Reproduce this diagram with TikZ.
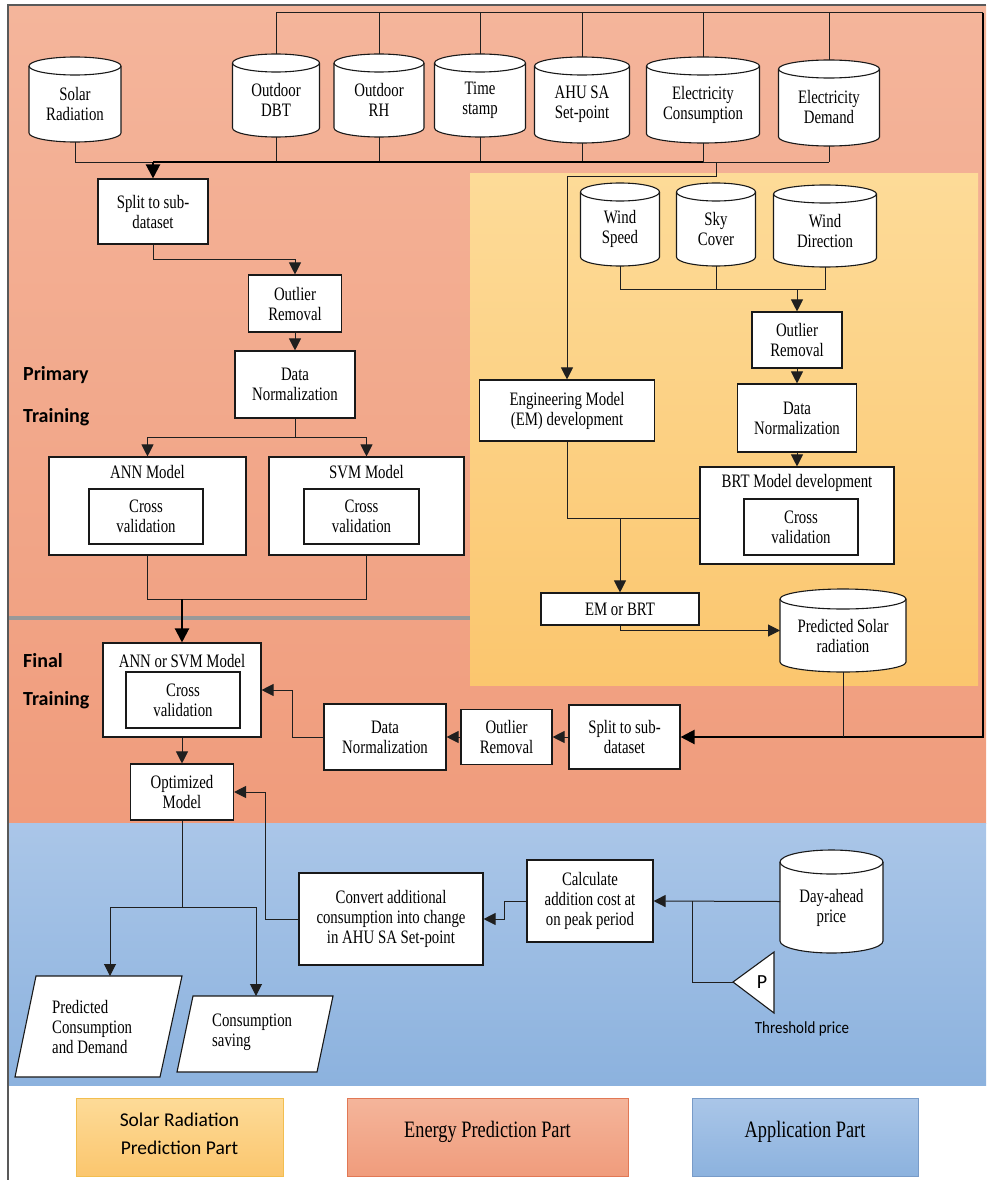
\documentclass[tikz,border=0pt]{standalone}
\usepackage{fontspec}
\setmainfont{Liberation Serif}[FakeStretch=0.78]
\newfontfamily\labfont{Carlito}
\newfontfamily\thrfont{Carlito}[FakeStretch=0.88]
\usetikzlibrary{arrows.meta}
\definecolor{salT}{RGB}{244,181,155}
\definecolor{salB}{RGB}{240,156,124}
\definecolor{yelT}{RGB}{253,219,152}
\definecolor{yelB}{RGB}{251,198,110}
\definecolor{bluT}{RGB}{170,198,232}
\definecolor{bluB}{RGB}{140,178,222}
\definecolor{legYd}{RGB}{242,190,80}
\definecolor{legSd}{RGB}{225,120,85}
\definecolor{legBd}{RGB}{120,155,200}
\newcommand\mycyl[7]{%
  \node[cylbox, minimum width=#4pt, minimum height=#5pt] (#1) at (#2,-#3) {};
  \path[cylline] (#1.north west) ++(0,-#6) -- ++(0,{-(#5-2*#6)})
     arc[start angle=180, end angle=360, x radius={0.5*#4pt}, y radius=#6pt]
     -- ++(0,{#5-2*#6})
     arc[start angle=0, end angle=180, x radius={0.5*#4pt}, y radius=#6pt] -- cycle;
  \draw[cylline, fill=none] (#1.north west) ++(0,-#6)
     arc[start angle=180, end angle=360, x radius={0.5*#4pt}, y radius=#6pt];
  \node[txt] (#1t) at ([yshift={-0.5*#6pt}]#1.center) {#7};
}
\begin{document}
\begin{tikzpicture}[x=1pt,y=1pt,
  nf/.style={font=\fontsize{19}{20}\selectfont},
  box/.style={draw=black!90, line width=1.1pt, fill=white, inner sep=0pt, align=center, nf},
  txt/.style={inner sep=0pt, align=center, nf},
  cylbox/.style={inner sep=0pt, outer sep=0pt},
  cylline/.style={draw=black!90, line width=1.1pt, fill=white},
  shp/.style={draw=black!90, line width=1.1pt, fill=white},
  ln/.style={draw=black!88, line width=1pt},
  arr/.style={ln, -{Triangle[length=12pt,width=12pt]}},
  thk/.style={draw=black, line width=2.2pt},
  thkarr/.style={thk, -{Triangle[length=14pt,width=14pt]}},
  lab/.style={font=\labfont\bfseries\fontsize{20}{22}\selectfont, inner sep=0pt, anchor=west},
  leg/.style={line width=0.8pt, inner sep=0pt, minimum height=78pt},
]
\useasboundingbox (0,0) rectangle (986,-1180);
\fill[white] (0,0) rectangle (986,-1180);
% regions
\fill[top color=salT, bottom color=salB] (8,-6) rectangle (986,-823);
\fill[top color=yelT, bottom color=yelB] (470,-173) rectangle (978,-685);
\fill[top color=bluT, bottom color=bluB] (8,-823) rectangle (986,-1085);
\draw[line width=4pt, color=black!40] (8,-618) -- (470,-618);
\draw[line width=1.5pt, color=black!65] (8,-1180) -- (8,-5) -- (986,-5);

% top cylinders
\mycyl{solar}{75}{99.5}{92}{85}{9}{Solar\\Radiation}
\mycyl{dbt}{276}{95.5}{87}{83}{9}{Outdoor\\DBT}
\mycyl{rh}{379}{95.5}{90}{83}{9}{Outdoor\\RH}
\mycyl{time}{480}{95.5}{91}{83}{9}{Time\\stamp}
\mycyl{ahu}{582}{100}{95}{86}{9}{AHU SA\\Set-point}
\mycyl{econs}{703}{100}{113}{86}{9}{Electricity\\Consumption}
\mycyl{edem}{829}{103}{101}{86}{9}{Electricity\\Demand}
% solar part cylinders
\mycyl{ws}{620}{224.5}{79}{83}{9}{Wind\\Speed}
\mycyl{sc}{716}{224.5}{79}{83}{9}{Sky\\Cover}
\mycyl{wd}{825}{226}{103}{82}{9}{Wind\\Direction}
\mycyl{psr}{843}{630.5}{126}{83}{10}{Predicted Solar\\radiation}
\mycyl{dap}{831.5}{901.5}{103}{103}{12}{Day-ahead\\price}

% primary training
\node[box, minimum width=110pt, minimum height=65pt] (split1) at (153,-211.5) {Split to sub-\\dataset};
\node[box, minimum width=93pt, minimum height=57pt] (out1) at (295,-303.5) {Outlier\\Removal};
\node[box, minimum width=120pt, minimum height=67pt] (norm1) at (295,-384.5) {Data\\Normalization};
\node[box, minimum width=197pt, minimum height=98pt] (ann) at (147.5,-506) {};
\node[txt] (annt) at (147.5,-472) {ANN Model};
\node[box, minimum width=114pt, minimum height=55pt] (cv1) at (146,-516.5) {Cross\\validation};
\node[box, minimum width=195pt, minimum height=98pt] (svm) at (366.5,-506) {};
\node[txt] (svmt) at (366.5,-472) {SVM Model};
\node[box, minimum width=115pt, minimum height=55pt] (cv2) at (361.5,-516.5) {Cross\\validation};
\node[lab] (pt1) at (23,-375) {Primary};
\node[lab] (pt2) at (23,-417) {Training};

% final training
\node[box, minimum width=158pt, minimum height=94pt] (annsvm) at (182,-690) {};
\node[txt] (annsvmt) at (182,-661) {ANN or SVM Model};
\node[box, minimum width=114pt, minimum height=56pt] (cv3) at (183,-700) {Cross\\validation};
\node[box, minimum width=103pt, minimum height=56pt] (opt) at (182,-792) {Optimized\\Model};
\node[lab] (ft1) at (23,-661) {Final};
\node[lab] (ft2) at (23,-700) {Training};
\node[box, minimum width=111pt, minimum height=64pt] (split2) at (624.5,-737) {Split to sub-\\dataset};
\node[box, minimum width=91pt, minimum height=55pt] (out3) at (506.5,-737) {Outlier\\Removal};
\node[box, minimum width=122pt, minimum height=66pt] (norm3) at (385,-737) {Data\\Normalization};

% solar radiation part
\node[box, minimum width=175pt, minimum height=61pt] (em) at (567,-410.5) {Engineering Model\\(EM) development};
\node[box, minimum width=90pt, minimum height=56pt] (out2) at (797,-340) {Outlier\\Removal};
\node[box, minimum width=119pt, minimum height=68pt] (norm2) at (797,-418) {Data\\Normalization};
\node[box, minimum width=194pt, minimum height=97pt] (brt) at (797,-515.5) {};
\node[txt] (brtt) at (797,-483) {BRT Model development};
\node[box, minimum width=114pt, minimum height=56pt] (cv4) at (801,-527) {Cross\\validation};
\node[box, minimum width=158pt, minimum height=32pt] (emb) at (620,-609) {EM or BRT};

% application part
\node[box, minimum width=184pt, minimum height=92pt] (conv) at (391,-919) {Convert additional\\consumption into change\\in AHU SA Set-point};
\node[box, minimum width=126pt, minimum height=82pt] (calc) at (590,-901) {Calculate\\addition cost at\\on peak period};
\draw[shp] (36,-976) -- (182,-976) -- (160,-1077) -- (15,-1077) -- cycle;
\coordinate (pcdtop) at (110,-976);
\node[txt, anchor=west, align=left] (pcd) at (52,-1027) {Predicted\\Consumption\\and Demand};
\draw[shp] (193,-996) -- (333,-996) -- (317,-1072) -- (177,-1072) -- cycle;
\coordinate (cstop) at (256,-996);
\node[txt, anchor=west, align=left] (cs) at (212,-1032) {Consumption\\saving};
\draw[shp] (733,-982) -- (774,-952) -- (774,-1013) -- cycle;
\coordinate (tritip) at (733,-982);
\node[font=\labfont\fontsize{20}{22}\selectfont, inner sep=0pt] (pn) at (762,-982) {P};
\node[font=\thrfont\fontsize{17}{20}\selectfont, inner sep=0pt] (thr) at (802,-1029) {Threshold price};

% legend
\node[leg, draw=legYd, top color=yelT, bottom color=yelB, minimum width=207pt] (l1) at (179.5,-1137) {};
\node[inner sep=0pt, align=center, font=\labfont\fontsize{19.5}{28}\selectfont] (l1t) at (179.5,-1134) {Solar Radiation\\Prediction Part};
\node[leg, draw=legSd, top color=salT, bottom color=salB, minimum width=281pt] (l2) at (487.5,-1137) {};
\node[inner sep=0pt, font=\fontsize{23.5}{25}\selectfont] (l2t) at (487.5,-1132) {Energy Prediction Part};
\node[leg, draw=legBd, top color=bluT, bottom color=bluB, minimum width=226pt] (l3) at (805,-1137) {};
\node[inner sep=0pt, font=\fontsize{23.5}{25}\selectfont] (l3t) at (805,-1132) {Application Part};

% ---- connectors ----
\coordinate (tb) at (276,-13);
\coordinate (tr) at (983,-13);
\coordinate (br) at (983,-737);
\draw[ln] (dbt.north) -- (tb) -- (tr);
\foreach \n in {rh,time,ahu,econs,edem} \draw[ln] (\n.north) -- (\n.north |- tb);
\draw[thkarr] (tr) -- (br) -- (split2.east);
\draw[ln] (psr.south) -- (psr.south |- br);

\coordinate (bb) at (153,-162);
\draw[ln] (solar.south) |- (bb);
\foreach \n in {dbt,rh,time,ahu,econs,edem} \draw[ln] (\n.south) -- (\n.south |- bb);
\draw[thk] (bb) -- (ahu.south |- bb);
\draw[line width=1.5pt] (ahu.south |- bb) -- (econs.south |- bb);
\draw[ln] (econs.south |- bb) -- (edem.south |- bb);
\draw[thkarr] (bb) -- (split1.north);

\coordinate (emj) at (716,-162);
\draw[arr] (emj) -- ++(0,-14) -| (em.north);

\coordinate (wb) at (797,-289);
\draw[ln] (ws.south) |- (wd.south |- wb) -- (wd.south);
\draw[ln] (sc.south) -- (sc.south |- wb);
\draw[arr] (wb) -- (out2.north);
\draw[arr] (out2.south) -- (norm2.north);
\draw[arr] (norm2.south) -- (brt.north);
\draw[ln] (em.south) |- (brt.west |- 0,-518);
\coordinate (ej) at (620,-518);
\draw[arr] (ej) -- (emb.north);
\draw[arr] (emb.south) |- (psr.west);

\draw[arr] (split1.south) -- ++(0,-15) -| (out1.north);
\draw[arr] (out1.south) -- (norm1.north);
\draw[ln] (norm1.south) -- ++(0,-19) coordinate (nj);
\draw[arr] (nj) -| (ann.north);
\draw[arr] (nj) -| (svm.north);
\coordinate (aj) at (182,-599);
\draw[ln] (ann.south) |- (aj);
\draw[ln] (svm.south) |- (aj);
\draw[thkarr] (aj) -- (annsvm.north);

\draw[arr] (split2.west) -- (out3.east);
\draw[arr] (out3.west) -- (norm3.east);
\draw[arr] (norm3.west) -- ++(-31,0) |- (annsvm.east);
\draw[arr] (annsvm.south) -- (opt.north);

\draw[ln] (opt.south) -- ++(0,-87) coordinate (oj);
\draw[arr] (oj) -| (pcdtop);
\draw[arr] (oj) -| (cstop);
\draw[arr] (conv.west) -- ++(-33,0) |- (opt.east);
\draw[arr] (calc.west) -- ++(-22,0) |- (conv.east);
\draw[arr] (dap.west) -- (calc.east);
\coordinate (dj) at (692,-901);
\draw[ln] (dj) |- (tritip);
\end{tikzpicture}
\end{document}
